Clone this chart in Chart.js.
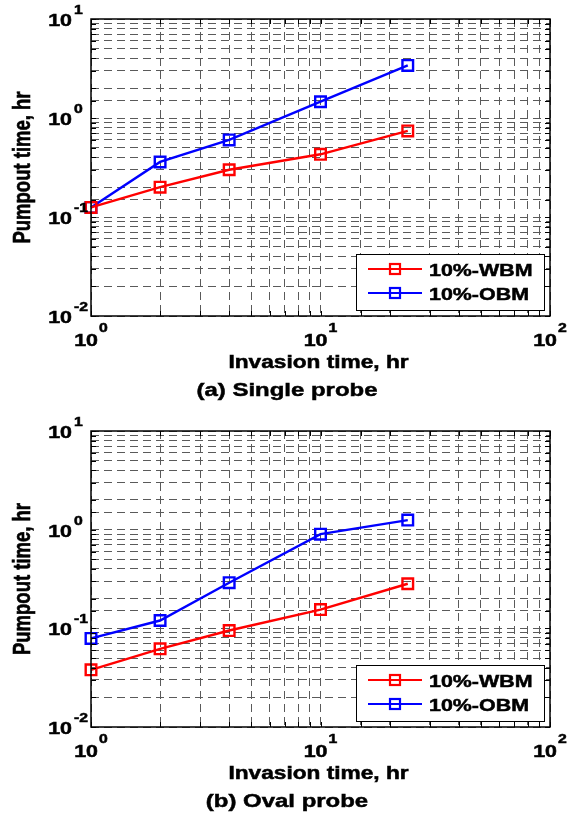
<!DOCTYPE html>
<html>
<head>
<meta charset="utf-8">
<script src="https://cdn.jsdelivr.net/npm/chart.js@4.4.1/dist/chart.umd.min.js"></script>
<style>
  html, body { margin: 0; padding: 0; background: #fff; }
  .panel { position: absolute; left: 0; width: 568px; height: 405px; }
  #panelA { top: 0; }
  #panelB { top: 410px; }
</style>
</head>
<body>
<div class="panel" id="panelA"><canvas id="chartA" width="568" height="405"></canvas></div>
<div class="panel" id="panelB"><canvas id="chartB" width="568" height="405"></canvas></div>
<script>
// data
const invasionTime = [1, 2, 4, 10, 24];
const singleWBM = [0.125, 0.2, 0.3, 0.43, 0.74];
const singleOBM = [0.125, 0.36, 0.6, 1.46, 3.4];
const ovalWBM = [0.038, 0.062, 0.095, 0.155, 0.283];
const ovalOBM = [0.079, 0.12, 0.29, 0.9, 1.25];
const seriesNames = ["10%-WBM", "10%-OBM"];
const seriesColors = ["#ff0000", "#0000ff"];
const xPowers = [0, 1, 2];
const yPowers = [-2, -1, 0, 1];
const xTitle = "Invasion time, hr";
const yTitle = "Pumpout time, hr";

const FONT = '"Liberation Sans", Arial, Helvetica, sans-serif';
const STRETCH = 1.26; // glyphs in the figure are wider than plain Arial

function drawText(ctx, str, x, y, size, align, rotated) {
  ctx.save();
  ctx.translate(x, y);
  if (rotated) {
    ctx.rotate(-Math.PI / 2);
    ctx.scale(1, STRETCH);
  } else {
    ctx.scale(STRETCH, 1);
  }
  ctx.font = `bold ${size}px ${FONT}`;
  ctx.textAlign = align;
  ctx.textBaseline = "alphabetic";
  ctx.fillStyle = "#000";
  ctx.strokeStyle = "#000";
  ctx.lineWidth = 0.5;
  ctx.fillText(str, 0, 0);
  ctx.strokeText(str, 0, 0);
  ctx.restore();
}

function textWidth(ctx, str, size) {
  ctx.save();
  ctx.font = `bold ${size}px ${FONT}`;
  const w = ctx.measureText(str).width * STRETCH;
  ctx.restore();
  return w;
}

const decorPlugin = {
  id: "decor",
  afterDraw(chart, args, opts) {
    const { ctx, chartArea: a, scales } = chart;
    const xs = scales.x;
    const ys = scales.y;
    ctx.save();

    // inward tick marks on all four sides
    ctx.strokeStyle = "#000";
    ctx.lineWidth = 1;
    ctx.beginPath();
    xs.ticks.forEach(t => {
      const px = Math.round(xs.getPixelForValue(t.value)) + 0.5;
      ctx.moveTo(px, a.top); ctx.lineTo(px, a.top + 5);
      ctx.moveTo(px, a.bottom); ctx.lineTo(px, a.bottom - 5);
    });
    ys.ticks.forEach(t => {
      const py = Math.round(ys.getPixelForValue(t.value)) + 0.5;
      ctx.moveTo(a.left, py); ctx.lineTo(a.left + 5, py);
      ctx.moveTo(a.right, py); ctx.lineTo(a.right - 5, py);
    });
    ctx.stroke();

    // axes box
    ctx.lineWidth = 1.5;
    ctx.strokeRect(a.left, a.top, a.right - a.left, a.bottom - a.top);

    // y tick labels 10^n
    yPowers.forEach(p => {
      const py = ys.getPixelForValue(Math.pow(10, p));
      drawText(ctx, "10", a.left - 19, py + 7, 17, "right");
      drawText(ctx, String(p), a.left - 17, py - 5, 12.5, "left");
    });

    // x tick labels 10^n
    xPowers.forEach(p => {
      const px = xs.getPixelForValue(Math.pow(10, p));
      const wBase = textWidth(ctx, "10", 17);
      const wSup = textWidth(ctx, String(p), 12.5);
      const left = px - (wBase + wSup + 1) / 2;
      drawText(ctx, "10", left, a.bottom + 30, 17, "left");
      drawText(ctx, String(p), left + wBase + 1, a.bottom + 16, 12.5, "left");
    });

    // axis titles and caption
    drawText(ctx, xTitle, (a.left + a.right) / 2 - 2, a.bottom + 52, 18, "center");
    drawText(ctx, yTitle, 30, (a.top + a.bottom) / 2, 18.5, "center", true);
    drawText(ctx, opts.caption, 287, a.bottom + 80, 19, "center");

    // legend box in lower right corner
    const lw = 188, lh = 56;
    const lx = a.right - 6 - lw;
    const ly = a.bottom - 6 - lh;
    ctx.fillStyle = "#fff";
    ctx.fillRect(lx, ly, lw, lh);
    ctx.strokeStyle = "#000";
    ctx.lineWidth = 1;
    ctx.strokeRect(lx + 0.5, ly + 0.5, lw, lh);
    chart.data.datasets.forEach((ds, i) => {
      const ry = ly + 15 + i * 24;
      ctx.strokeStyle = ds.borderColor;
      ctx.lineWidth = 2.2;
      ctx.beginPath();
      ctx.moveTo(lx + 12, ry);
      ctx.lineTo(lx + 66, ry);
      ctx.stroke();
      ctx.strokeRect(lx + 39 - 5, ry - 5, 10, 10);
      drawText(ctx, ds.label, lx + 73, ry + 7, 17, "left");
    });

    ctx.restore();
  },
};

function makeChart(canvasId, wbm, obm, caption, padTop, padBottom) {
  const ctx = document.getElementById(canvasId).getContext("2d");
  const seriesValues = [wbm, obm];

  return new Chart(ctx, {
    type: "line",
    data: {
      datasets: seriesValues.map((vals, i) => ({
        label: seriesNames[i],
        data: invasionTime.map((t, k) => ({ x: t, y: vals[k] })),
        borderColor: seriesColors[i],
        backgroundColor: "rgba(0,0,0,0)",
        borderWidth: 2.4,
        pointStyle: "rect",
        pointRadius: 7.5,
        pointHoverRadius: 7.5,
        pointBorderWidth: 2.4,
        pointBorderColor: seriesColors[i],
        pointBackgroundColor: "rgba(0,0,0,0)",
        tension: 0,
        fill: false,
        clip: false,
      })),
    },
    options: {
      responsive: false,
      animation: false,
      devicePixelRatio: 1,
      layout: {
        padding: { left: 91, right: 18, top: padTop, bottom: padBottom },
      },
      plugins: {
        legend: { display: false },
        tooltip: { enabled: false },
        decor: { caption: caption },
      },
      scales: {
        x: {
          type: "logarithmic",
          min: 1,
          max: 100,
          ticks: { display: false, autoSkip: false },
          grid: { color: "#5a5a5a", lineWidth: 1, drawTicks: false },
          border: { display: false, dash: [8, 5] },
          afterFit(scale) { scale.height = 0; },
        },
        y: {
          type: "logarithmic",
          min: 0.01,
          max: 10,
          ticks: { display: false, autoSkip: false },
          grid: { color: "#5a5a5a", lineWidth: 1, drawTicks: false },
          border: { display: false, dash: [8, 5] },
          afterFit(scale) { scale.width = 0; },
        },
      },
    },
    plugins: [decorPlugin],
  });
}

makeChart("chartA", singleWBM, singleOBM, "(a) Single probe", 19, 89);
makeChart("chartB", ovalWBM, ovalOBM, "(b) Oval probe", 21, 88);
</script>
</body>
</html>
